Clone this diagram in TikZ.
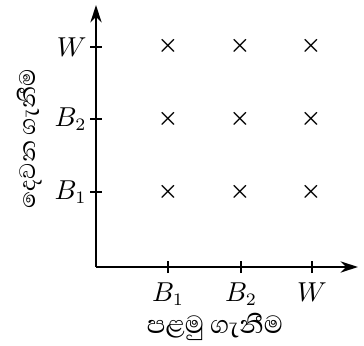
\documentclass[tikz,border=0pt]{standalone}
\usepackage{fontspec}
\newfontfamily\sinhala[Script=Sinhala]{Abhaya Libre}
\usetikzlibrary{arrows.meta}

\begin{document}
\begin{tikzpicture}[
    x=0.4pt, y=0.4pt,
    axis/.style={-{Stealth[length=7pt, width=4.5pt]}, line width=0.7pt},
    tick/.style={line width=0.5pt},
    cross/.style={font=\small\boldmath, inner sep=0pt},
    ticklabel/.style={font=\fontsize{10.5}{12}\selectfont, inner sep=0pt},
    axislabel/.style={font=\sinhala\fontsize{12.7}{14}\selectfont, inner sep=0pt}
]
  \useasboundingbox (0,0) rectangle (364,345);

  % Axes
  \coordinate (origin) at (96,78);
  \coordinate (xend) at (358,78);
  \coordinate (yend) at (96,340);
  \draw[axis] (origin) -- (xend);
  \draw[axis] (origin) -- (yend);

  % Ticks on the first axis
  \foreach \name/\lbl/\px in {B1/B_1/168, B2/B_2/241, W/W/312} {
    \coordinate (x\name) at (\px,78);
    \draw[tick] (\px,72) -- (\px,84);
    \node[ticklabel, anchor=north] (lx\name) at (\px,63) {$\lbl$};
  }

  % Ticks on the second axis
  \foreach \name/\lbl/\py in {B1/B_1/153, B2/B_2/226, W/W/298} {
    \coordinate (y\name) at (96,\py);
    \draw[tick] (90,\py) -- (102,\py);
    \node[ticklabel, anchor=east] (ly\name) at (87,\py) {$\lbl$};
  }

  % Crosses
  \foreach \i/\px in {1/168, 2/240, 3/311} {
    \foreach \j/\py in {1/153, 2/226, 3/299} {
      \node[cross] (c\i\j) at (\px,\py) {$\times$};
    }
  }

  % Axis names
  \node[axislabel] (xname) at (215,18) {පළමු ගැනීම};
  \node[axislabel, font=\sinhala\fontsize{11.5}{13}\selectfont, rotate=90] (yname) at (30,206) {දෙවන ගැනීම};
\end{tikzpicture}
\end{document}
